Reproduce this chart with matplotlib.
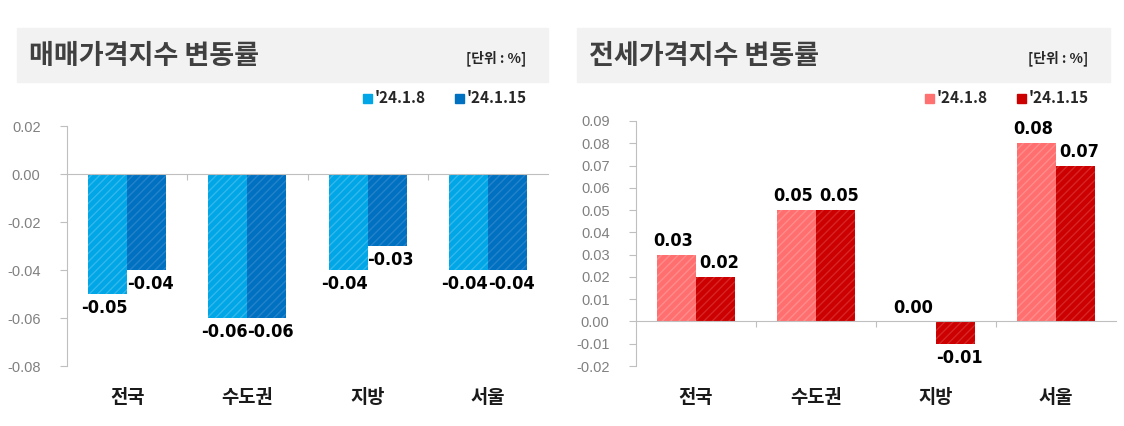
import matplotlib.pyplot as plt
from matplotlib.patches import Rectangle
import numpy as np

plt.rcParams['font.family'] = ['Noto Sans CJK KR', 'DejaVu Sans']
plt.rcParams['hatch.linewidth'] = 1.0

regions = ['전국', '수도권', '지방', '서울']
series = ["'24.1.8", "'24.1.15"]
sale_prev = [-0.05, -0.06, -0.04, -0.04]
sale_curr = [-0.04, -0.06, -0.03, -0.04]
rent_prev = [0.03, 0.05, 0.00, 0.08]
rent_curr = [0.02, 0.05, -0.01, 0.07]
sale_ticks = [0.02, 0.00, -0.02, -0.04, -0.06, -0.08]
rent_ticks = [0.09, 0.08, 0.07, 0.06, 0.05, 0.04, 0.03, 0.02, 0.01, 0.00, -0.01, -0.02]

fig = plt.figure(figsize=(11.24, 4.26), dpi=100)
grey = '#BFBFBF'
num_prop = dict(family='DejaVu Sans', stretch='condensed', fontweight='bold', fontsize=13)


def header(x0, x1, title, cols):
    fig.patches.append(Rectangle((x0 / 1124, 1 - 82 / 426), (x1 - x0) / 1124, 54 / 426,
                                 transform=fig.transFigure, color='#F2F2F2', zorder=0))
    fig.text((x0 + 12) / 1124, 1 - 56 / 426, title, fontsize=19.5, fontweight='bold',
             color='#404040', va='center')
    fig.text((x1 - 22) / 1124, 1 - 58 / 426, '[단위 : %]', fontsize=10, fontweight='bold',
             color='#262626', va='center', ha='right')
    for lx, c, s in zip([x1 - 185, x1 - 93], cols, series):
        fig.patches.append(Rectangle((lx / 1124, 1 - 103 / 426), 9 / 1124, 9 / 426,
                                     transform=fig.transFigure, color=c))
        fig.text((lx + 12) / 1124, 1 - 98 / 426, s, fontsize=11, fontweight='bold',
                 color='#262626', va='center')


def panel(rect, prev, curr, ticks, ylim, cols, hcols):
    ax = fig.add_axes(rect)
    x = np.arange(len(regions))
    w = 0.325
    pad = 0.002 * (ylim[1] - ylim[0]) / 0.1
    # labels of a pair are nudged apart a little so they do not run together
    for off, nudge, vals, c, h in [(-w / 2, -0.03, prev, cols[0], hcols[0]),
                                   (w / 2, 0.03, curr, cols[1], hcols[1])]:
        bars = ax.bar(x + off, vals, w, color=c, edgecolor=h, linewidth=0, hatch='////', zorder=2)
        for b, v in zip(bars, vals):
            cx = b.get_x() + w / 2 + nudge
            if v < 0:
                ax.text(cx, v - pad, f'{v:.2f}', ha='center', va='top', **num_prop)
            else:
                ax.text(cx, v + pad, f'{v:.2f}', ha='center', va='bottom', **num_prop)
    ax.set_xlim(-0.5, 3.5)
    ax.set_ylim(*ylim)
    ax.set_yticks(ticks)
    ax.set_yticklabels([f'{t:.2f}' for t in ticks], fontsize=10.5, color='#808080',
                       family=['Liberation Sans', 'DejaVu Sans'])
    ax.set_xticks([0.5, 1.5, 2.5])
    ax.set_xticklabels([])
    ax.tick_params(axis='x', length=4, color=grey)
    ax.tick_params(axis='y', length=5, color=grey, pad=14)
    for s in ['top', 'right']:
        ax.spines[s].set_visible(False)
    ax.spines['bottom'].set_position(('data', 0))
    ax.spines['bottom'].set_color(grey)
    ax.spines['left'].set_color(grey)
    for i, r in enumerate(regions):
        ax.text(i, -0.09, r, transform=ax.get_xaxis_transform(), ha='center', va='top',
                fontsize=13.5, fontweight='bold', color='#1a1a1a')
    return ax


header(17, 548, '매매가격지수 변동률', ['#00A6E6', '#0070C0'])
header(577, 1110, '전세가격지수 변동률', ['#FF7070', '#CC0000'])

panel([67 / 1124, 1 - 366 / 426, 481 / 1124, 240 / 426], sale_prev, sale_curr, sale_ticks,
      (-0.08, 0.02), ['#00A6E6', '#0070C0'], ['#33B8EC', '#2683CB'])
panel([636 / 1124, 1 - 366 / 426, 480 / 1124, 245 / 426], rent_prev, rent_curr, rent_ticks,
      (-0.02, 0.09), ['#FF6F6F', '#CC0000'], ['#FF8C8C', '#D62626'])

fig.savefig('out.png', dpi=100)
